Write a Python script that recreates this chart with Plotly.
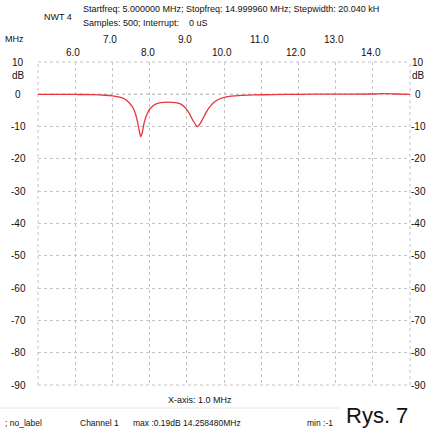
import plotly.graph_objects as go

# ---- data ----
freq_mhz = [5.0, 5.5, 6.0, 6.5, 6.8, 7.0, 7.2, 7.35, 7.45, 7.55, 7.62, 7.68, 7.73, 7.76,
            7.80, 7.84, 7.90, 7.97, 8.05, 8.15, 8.3, 8.5, 8.7, 8.85, 8.97, 9.07, 9.17,
            9.25, 9.29, 9.34, 9.42, 9.52, 9.62, 9.75, 9.9, 10.1, 10.4, 10.8, 11.3, 12.0,
            13.0, 14.0, 14.26, 14.6, 15.0]
level_db = [0.0, 0.0, -0.05, -0.1, -0.3, -0.5, -0.9, -1.6, -2.6, -4.1, -6.0, -8.8, -11.8, -13.1,
            -12.0, -9.5, -7.0, -5.2, -4.0, -3.1, -2.6, -2.4, -2.6, -3.1, -4.3, -6.0, -8.2,
            -9.6, -10.0, -9.4, -7.8, -5.6, -3.8, -2.3, -1.3, -0.7, -0.4, -0.2, -0.1, 0.0,
            0.05, 0.1, 0.19, 0.1, 0.0]
x_ticks = [6.0, 7.0, 8.0, 9.0, 10.0, 11.0, 12.0, 13.0, 14.0]
y_ticks = [10, 0, -10, -20, -30, -40, -50, -60, -70, -80, -90]

W, H = 426, 433
L, R, T, B = 38, 16, 62, 48
PW, PH = W - L - R, H - T - B
FONT = "Liberation Sans"


def px(x):
    return (x - L) / PW


def py(y):
    return (H - B - y) / PH


fig = go.Figure()
fig.add_trace(go.Scatter(x=freq_mhz, y=level_db, mode="lines",
                         line=dict(color="#e8343c", width=1.3, shape="spline", smoothing=0.6),
                         hoverinfo="skip", showlegend=False))

fig.update_layout(
    width=W, height=H,
    margin=dict(l=L, r=R, t=T, b=B),
    paper_bgcolor="white", plot_bgcolor="white",
    showlegend=False,
    xaxis=dict(range=[5, 15], dtick=1, showticklabels=False, showgrid=True,
               gridcolor="#c4c4c4", griddash="dot", gridwidth=1, zeroline=False, showline=False),
    yaxis=dict(range=[-90, 10], dtick=10, showticklabels=False, showgrid=True,
               gridcolor="#c4c4c4", griddash="dot", gridwidth=1, zeroline=False, showline=False),
)

# border dotted
for x0, y0, x1, y1 in [(0, 0, 1, 0), (0, 1, 1, 1), (0, 0, 0, 1), (1, 0, 1, 1)]:
    fig.add_shape(type="line", xref="paper", yref="paper", x0=x0, y0=y0, x1=x1, y1=y1,
                  line=dict(color="#c4c4c4", width=1, dash="dot"), layer="below")
# 0 dB reference line
fig.add_shape(type="line", xref="paper", yref="y", x0=0, x1=1, y0=0, y1=0,
              line=dict(color="#707070", width=1, dash="dot"), layer="below")
# faint separator line at bottom
fig.add_shape(type="line", xref="paper", yref="paper", x0=px(0), x1=px(340), y0=py(408), y1=py(408),
              line=dict(color="#e6e6e6", width=1))


def text(s, x, y, size=9, anchor="left", xref="paper"):
    fig.add_annotation(text=s, x=x, y=py(y), xref=xref, yref="paper", showarrow=False,
                       xanchor=anchor, yanchor="middle", font=dict(family=FONT, size=size, color="#111"))


# top tick labels (staggered)
for i, v in enumerate(x_ticks):
    ypos = 52 if i % 2 == 0 else 39
    fig.add_annotation(text=f"{v:.1f}", x=v, y=py(ypos), xref="x", yref="paper", showarrow=False,
                       xanchor="center", yanchor="middle", xshift=-2,
                       font=dict(family=FONT, size=10, color="#111"))

# y tick labels both sides
for v in y_ticks:
    ypix = (10 - v) / 100 * PH + T
    text(str(v), px(18), ypix, size=10, anchor="center")
    text(str(v), px(418), ypix, size=10, anchor="center")
text("dB", px(18), 75, size=10, anchor="center")
text("dB", px(418), 75, size=10, anchor="center")
text("MHz", px(3), 39, size=9)

# header
text("NWT 4", px(42), 17, size=9)
text("Startfreq: 5.000000 MHz; Stopfreq: 14.999960 MHz; Stepwidth: 20.040 kH", px(81), 9, size=9)
text("Samples: 500; Interrupt: &nbsp;&nbsp;&nbsp;0 uS", px(81), 23, size=9)

# footer
text("X-axis: 1.0 MHz", px(200), 400, size=9, anchor="center")
text("; no_label", px(3), 423, size=8.5)
text("Channel 1", px(78), 423, size=8.5)
text("max :0.19dB 14.258480MHz", px(131), 423, size=8.5)
text("min :-1", px(305), 423, size=8.5)
text("Rys. 7", px(344), 415, size=22)

fig.write_html("out.html", config={"displayModeBar": False},
               post_script="document.body.style.margin='0';document.body.style.overflow='hidden';")
